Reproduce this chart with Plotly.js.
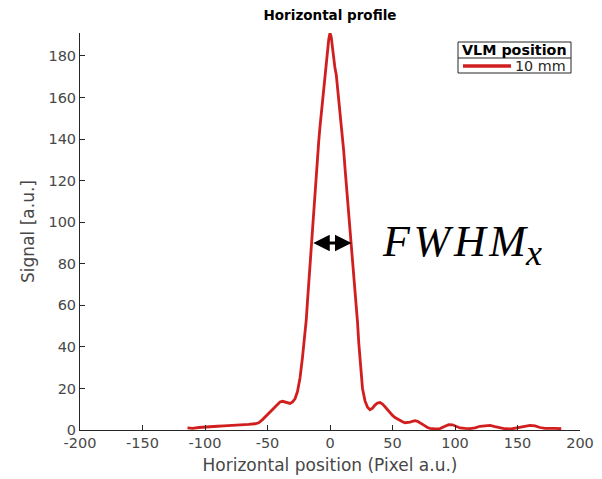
<!DOCTYPE html>
<html>
<head>
<meta charset="utf-8">
<script src="https://cdn.plot.ly/plotly-3.0.1.min.js"></script>
<style>
  html, body { margin: 0; padding: 0; background: #ffffff; }
  #chart { width: 602px; height: 479px; }
</style>
</head>
<body>
<div id="chart"></div>
<script>
// Horizontal beam profile (signal vs. pixel position)
const positionPx = [
  -114, -110, -105, -100, -95, -90, -85, -80, -75, -70, -65, -60, -57, -54, -51, -48, -45, -42, -40, -38,
  -36, -34, -32, -30, -28, -26, -24, -22, -20, -19, -18, -17, -16, -15, -14, -13, -12, -11, -10, -9,
  -8, -7, -6, -5, -4, -3, -2, -1, 0, 1, 2, 3, 4, 5, 6, 7, 8, 9, 10, 11,
  12, 13, 14, 15, 16, 17, 18, 19, 20, 21, 22, 23, 24, 25, 26, 28, 30, 32, 34, 36,
  38, 40, 42, 44, 46, 48, 50, 52, 54, 56, 58, 60, 62, 64, 66, 68, 70, 72, 74, 76,
  78, 80, 84, 88, 92, 95, 98, 101, 104, 108, 112, 116, 120, 124, 128, 132, 136, 140, 145, 150,
  155, 160, 164, 168, 172, 176, 180, 185
];
const signal = [
  1.0, 0.8, 1.2, 1.5, 1.6, 1.8, 2.0, 2.1, 2.3, 2.5, 2.7, 3.0, 3.5, 5.0, 6.8, 8.5, 10.5, 12.5, 13.5, 13.8,
  13.4, 13.0, 12.8, 13.5, 15.0, 18.5, 25, 35, 46, 53, 62, 71, 80, 88, 96, 104, 113, 121, 130, 139,
  146, 152, 158, 164, 170, 176, 183, 188, 191, 189, 184, 178, 174, 171, 165, 160, 155, 148, 141, 134,
  126, 119, 112, 104, 97, 90, 82, 75, 68, 61, 52, 42, 33, 26, 20, 14, 11, 9.8, 10.5, 12,
  13, 13.2, 12.5, 11.2, 9.8, 8.2, 7, 6, 5.2, 4.6, 4, 3.5, 3.6, 3.8, 4.2, 4.5, 4.2, 3.6, 2.8, 2,
  1.2, 0.8, 0.5, 0.7, 1.8, 2.6, 2.5, 1.6, 1.0, 0.8, 0.7, 1.0, 1.8, 2.0, 2.2, 1.6, 1.0, 0.6, 0.5, 1.0,
  1.8, 2.2, 2.0, 1.2, 0.8, 0.9, 0.8, 0.6
];

const seriesName = '10 mm';
const legendTitle = 'VLM position';

const xTickVals = [-200, -150, -100, -50, 0, 50, 100, 150, 200];
const xTickText = ['-200', '-150', '-100', '-50', '0', '50', '100', '150', '200'];
const yTickVals = [0, 20, 40, 60, 80, 100, 120, 140, 160, 180];

// Full width at half maximum marker (edges in pixels, at signal level)
const fwhmLeft = -14.6;
const fwhmRight = 17.2;
const fwhmLevel = 90;

const lineColor = '#d11f1f';
const axisColor = '#262626';
const labelColor = '#474747';
const font = 'DejaVu Sans, sans-serif';

const trace = {
  x: positionPx,
  y: signal,
  type: 'scatter',
  mode: 'lines',
  name: seriesName,
  showlegend: false,
  line: { color: lineColor, width: 2.8 }
};

const axisCommon = {
  showgrid: false,
  zeroline: false,
  showline: true,
  linecolor: axisColor,
  linewidth: 1,
  ticks: 'inside',
  ticklen: 5,
  tickwidth: 1,
  tickcolor: axisColor,
  tickfont: { family: font, size: 14.5, color: labelColor }
};

// plot area in pixels: left 80, right 580, top 33, bottom 430
const px2x = p => (p - 80) / 500;
const px2y = p => (430 - p) / 397;

const layout = {
  width: 602,
  height: 479,
  paper_bgcolor: '#ffffff',
  plot_bgcolor: '#ffffff',
  margin: { l: 80, r: 22, t: 33, b: 49 },
  showlegend: false,
  title: {
    text: '<b>Horizontal profile</b>',
    font: { family: font, size: 13.5, color: '#000000' },
    x: 0.5, xref: 'paper', xanchor: 'center',
    y: 1 - 15 / 479, yref: 'container', yanchor: 'middle'
  },
  xaxis: Object.assign({}, axisCommon, {
    range: [-200, 200],
    tickmode: 'array',
    tickvals: xTickVals,
    ticktext: xTickText,
    title: { text: 'Horizontal position (Pixel a.u.)', font: { family: font, size: 17, color: labelColor }, standoff: 8 }
  }),
  yaxis: Object.assign({}, axisCommon, {
    range: [0, 191],
    tickmode: 'array',
    tickvals: yTickVals,
    title: { text: 'Signal [a.u.]', font: { family: font, size: 17, color: labelColor }, standoff: 9 }
  }),
  shapes: [
    // legend box, header separator and line sample
    { type: 'rect', xref: 'paper', yref: 'paper', x0: px2x(458), x1: px2x(571), y0: px2y(73), y1: px2y(42),
      line: { color: axisColor, width: 1 }, fillcolor: '#ffffff', layer: 'above' },
    { type: 'line', xref: 'paper', yref: 'paper', x0: px2x(458), x1: px2x(571), y0: px2y(58), y1: px2y(58),
      line: { color: axisColor, width: 1 }, layer: 'above' },
    { type: 'line', xref: 'paper', yref: 'paper', x0: px2x(463), x1: px2x(511), y0: px2y(66), y1: px2y(66),
      line: { color: lineColor, width: 3.4 }, layer: 'above' }
  ],
  annotations: [
    {
      x: px2x(514.5), y: px2y(50), xref: 'paper', yref: 'paper',
      text: '<b>' + legendTitle + '</b>', showarrow: false,
      font: { family: font, size: 14.3, color: '#000000' },
      xanchor: 'center', yanchor: 'middle'
    },
    {
      x: px2x(513), y: px2y(66), xref: 'paper', yref: 'paper',
      text: seriesName, showarrow: false,
      font: { family: font, size: 14.3, color: axisColor },
      xanchor: 'left', yanchor: 'middle'
    },
    {
      x: fwhmRight, y: fwhmLevel, xref: 'x', yref: 'y',
      ax: fwhmLeft, ay: fwhmLevel, axref: 'x', ayref: 'y',
      text: '', showarrow: true,
      arrowside: 'end+start', arrowhead: 2, arrowsize: 1.1, arrowwidth: 3,
      arrowcolor: '#000000', standoff: 0, startstandoff: 0
    },
    {
      x: px2x(380), y: px2y(245), xref: 'paper', yref: 'paper',
      text: 'F\u200AW\u200AH\u200AM<sub><span style="font-size:36px">x</span></sub>',
      showarrow: false,
      font: { family: 'Liberation Serif, DejaVu Serif, serif', size: 44, color: '#000000', style: 'italic' },
      xanchor: 'left', yanchor: 'middle'
    }
  ]
};

Plotly.newPlot('chart', [trace], layout, { staticPlot: true, displayModeBar: false });
</script>
</body>
</html>
